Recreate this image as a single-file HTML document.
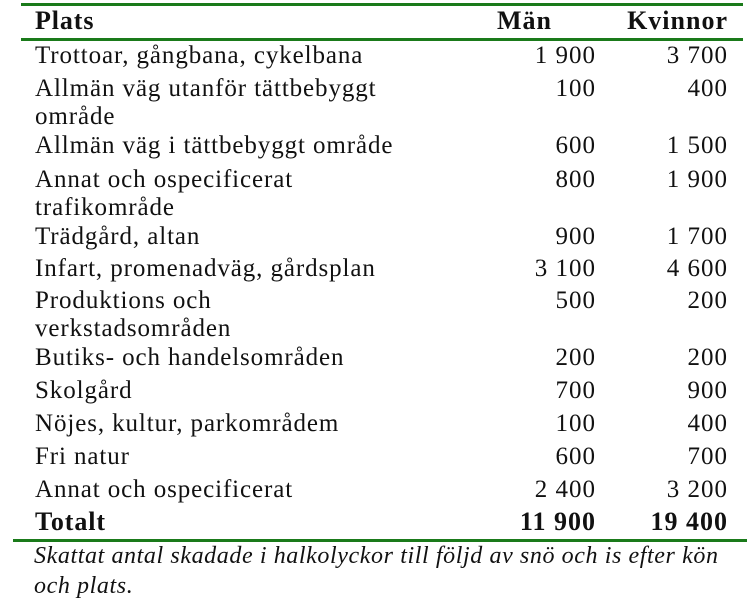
<!DOCTYPE html>
<html><head><meta charset="utf-8"><style>
body{margin:0;width:756px;height:610px;background:#fff;position:relative;overflow:hidden;font-family:"Liberation Serif",serif;color:#111}
.l{position:absolute;background:#1a7a1a;height:3px}
.r{position:absolute;left:0;width:756px;font-size:25px;line-height:28px}
.p{position:absolute;left:35px;white-space:nowrap;letter-spacing:0.9px}
.m{position:absolute;right:160px;letter-spacing:1px}
.k{position:absolute;right:28px;letter-spacing:1px}
.b{font-weight:bold;font-size:26px}
.cap{position:absolute;left:34px;font-style:italic;font-size:24px;line-height:30px;width:720px;letter-spacing:0.6px;white-space:nowrap}
</style></head><body>
<div class="l" style="left:21px;width:722px;top:3px"></div>
<div class="l" style="left:21px;width:722px;top:38px"></div>
<div class="l" style="left:13px;width:734px;top:539px"></div>
<div class="r b" style="top:7px"><span class="p">Plats</span><span class="m" style="right:204px">Män</span><span class="k">Kvinnor</span></div>
<div class="r" style="top:42px"><span class="p">Trottoar, gångbana, cykelbana</span><span class="m">1 900</span><span class="k">3 700</span></div>
<div class="r" style="top:75px"><span class="p">Allmän väg utanför tättbebyggt<br>område</span><span class="m">100</span><span class="k">400</span></div>
<div class="r" style="top:132px"><span class="p">Allmän väg i tättbebyggt område</span><span class="m">600</span><span class="k">1 500</span></div>
<div class="r" style="top:166px"><span class="p">Annat och ospecificerat<br>trafikområde</span><span class="m">800</span><span class="k">1 900</span></div>
<div class="r" style="top:223px"><span class="p">Trädgård, altan</span><span class="m">900</span><span class="k">1 700</span></div>
<div class="r" style="top:255px"><span class="p">Infart, promenadväg, gårdsplan</span><span class="m">3 100</span><span class="k">4 600</span></div>
<div class="r" style="top:287px"><span class="p">Produktions och<br>verkstadsområden</span><span class="m">500</span><span class="k">200</span></div>
<div class="r" style="top:344px"><span class="p">Butiks- och handelsområden</span><span class="m">200</span><span class="k">200</span></div>
<div class="r" style="top:377px"><span class="p">Skolgård</span><span class="m">700</span><span class="k">900</span></div>
<div class="r" style="top:410px"><span class="p">Nöjes, kultur, parkområdem</span><span class="m">100</span><span class="k">400</span></div>
<div class="r" style="top:443px"><span class="p">Fri natur</span><span class="m">600</span><span class="k">700</span></div>
<div class="r" style="top:476px"><span class="p">Annat och ospecificerat</span><span class="m">2 400</span><span class="k">3 200</span></div>
<div class="r b" style="top:508px"><span class="p">Totalt</span><span class="m">11 900</span><span class="k">19 400</span></div>
<div class="cap" style="top:541px">Skattat antal skadade i halkolyckor till följd av snö och is efter kön<br>och plats.</div>
</body></html>
